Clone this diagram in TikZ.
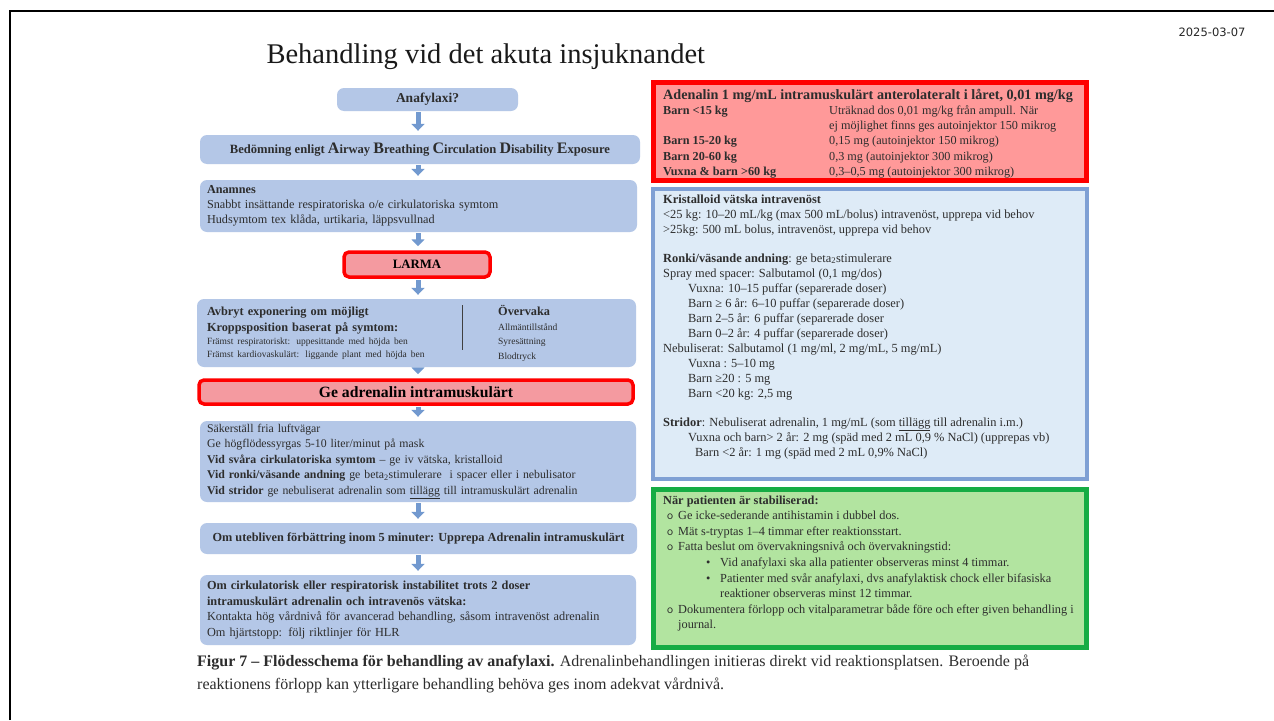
\documentclass[tikz,border=0pt]{standalone}
\usepackage{fontspec}
\setmainfont{Liberation Serif}
\newfontfamily\datefont{DejaVu Sans}
\usetikzlibrary{arrows.meta, positioning}
\definecolor{flowblue}{RGB}{180,199,231}
\definecolor{arrowblue}{RGB}{114,153,207}
\definecolor{alarmred}{RGB}{255,0,0}
\definecolor{alarmpink}{RGB}{244,154,160}
\definecolor{dosepink}{RGB}{255,153,153}
\definecolor{infoblue}{RGB}{222,235,247}
\definecolor{infoedge}{RGB}{127,160,212}
\definecolor{stablegreen}{RGB}{178,228,160}
\definecolor{stableedge}{RGB}{22,172,68}
\definecolor{inktext}{RGB}{45,45,45}
\newcommand{\fs}[2]{\fontsize{#1}{#2}\selectfont}
\newcommand{\abc}[1]{{\fs{16}{15}#1}}
\tikzset{
  flowbox/.style={rectangle, rounded corners=7pt, fill=flowblue, text=inktext,
                  inner xsep=7pt, inner ysep=2pt},
  alarmbox/.style={rectangle, rounded corners=5pt, draw=alarmred, line width=3.5pt,
                   fill=alarmpink, text=black, font=\bfseries},
  infobox/.style={rectangle, draw=#1, line width=4.5pt, inner sep=0pt},
  flowarrow/.style={-{Triangle[width=13pt,length=7pt]}, line width=5pt, draw=arrowblue,
                    shorten <=1pt, shorten >=4pt},
  listtext/.style={anchor=north west, inner sep=0pt, align=left, text=inktext},
}
\begin{document}
\begin{tikzpicture}[x=1pt, y=-1pt]
  \useasboundingbox (0,0) rectangle (1274,720);
  \fill[white] (0,0) rectangle (1274,720);
  % frame
  \draw[line width=2.5pt] (10,720) -- (10,11) -- (1274,11);
  \node[font=\datefont\fs{11.5}{14}, text=black!85] (date) at (1212,32) {2025-03-07};
  \node[anchor=west, font=\fs{28.5}{32}, text=black!90] (title) at (263,57) {Behandling vid det akuta insjuknandet};

  % flow chart, left column
  \node[flowbox, minimum width=181pt, minimum height=23pt, font=\fs{13.5}{15}\bfseries] (ana) at (427.5,99.5) {Anafylaxi?};
  \node[flowbox, minimum width=440pt, minimum height=29pt, font=\fs{12.6}{15}\bfseries] (abcde) at (420,149.5)
    {Bedömning enligt \abc{A}irway \abc{B}reathing \abc{C}irculation \abc{D}isability \abc{E}xposure};
  \node[flowbox, text width=423pt, minimum height=52pt, align=left, font=\fs{12.2}{15}] (anam) at (418.5,206)
    {\textbf{Anamnes}\\ Snabbt insättande respiratoriska o/e cirkulatoriska symtom\\ Hudsymtom tex klåda, urtikaria, läppsvullnad};
  \node[alarmbox, minimum width=146pt, minimum height=25pt, font=\fs{12.8}{15}\bfseries] (larma) at (417,264.5) {LARMA};
  \node[flowbox, inner xsep=10pt, text width=419pt, minimum height=68pt, align=left, font=\fs{12.3}{13}] (avbryt) at (416.5,333)
    {\textbf{Avbryt exponering om möjligt}\\[3pt] \textbf{Kroppsposition baserat på symtom:}\\
     {\fs{9.5}{13}Främst respiratoriskt: uppesittande med höjda ben}\\
     {\fs{9.5}{13}Främst kardiovaskulärt: liggande plant med höjda ben}};
  \node[listtext, font=\fs{12.3}{14.7}] (overv) at (498,305)
    {\textbf{Övervaka}\\ {\fs{9.5}{14.7}Allmäntillstånd}\\ {\fs{9.5}{14.7}Syresättning}\\ {\fs{9.5}{14.7}Blodtryck}};
  \draw[line width=1pt, black!75] (462,305) -- (462,350);
  \node[alarmbox, minimum width=434pt, minimum height=24pt, font=\fs{15.7}{17}\bfseries] (adren) at (416,392) {Ge adrenalin intramuskulärt};
  \node[flowbox, text width=422pt, minimum height=81pt, align=left, font=\fs{11.8}{15.5}] (sakra) at (418,461.5)
    {Säkerställ fria luftvägar\\ Ge högflödessyrgas 5-10 liter/minut på mask\\
     \textbf{Vid svåra cirkulatoriska symtom} – ge iv vätska, kristalloid\\
     \textbf{Vid ronki/väsande andning} ge beta\textsubscript{2}stimulerare\ \ i spacer eller i nebulisator\\
     \textbf{Vid stridor} ge nebuliserat adrenalin som \underline{tillägg} till intramuskulärt adrenalin};
  \node[flowbox, minimum width=437pt, minimum height=31pt, font=\fs{12.3}{14}\bfseries] (uteb) at (418.5,538.5)
    {Om utebliven förbättring inom 5 minuter: Upprepa Adrenalin intramuskulärt};
  \node[flowbox, text width=422pt, minimum height=70pt, align=left, font=\fs{12.3}{15.5}] (cirk) at (418,610)
    {\textbf{Om cirkulatorisk eller respiratorisk instabilitet trots 2 doser}\\
     \textbf{intramuskulärt adrenalin och intravenös vätska:}\\
     Kontakta hög vårdnivå för avancerad behandling, såsom intravenöst adrenalin\\
     Om hjärtstopp: följ riktlinjer för HLR};

  % arrows down the column
  \coordinate (axis) at (418,0);
  \foreach \a/\b in {ana/abcde, abcde/anam, anam/larma, larma/avbryt, avbryt/adren, adren/sakra, sakra/uteb, uteb/cirk}{
    \draw[flowarrow] (\a.south -| axis) -- (\b.north -| axis);
  }

  % right column
  \node[infobox=alarmred, fill=dosepink, minimum width=433pt, minimum height=98pt] (dose) at (870,131.5) {};
  \node[listtext, font=\fs{12.2}{15.2}] (dosetxt) at (663,88.5)
    {\begin{tabular}{@{}p{166pt}@{}l@{}}
     \multicolumn{2}{@{}l@{}}{\fs{14.2}{15.2}\textbf{Adenalin 1 mg/mL intramuskulärt anterolateralt i låret, 0,01 mg/kg}}\\
     \textbf{Barn <15 kg} & Uträknad dos 0,01 mg/kg från ampull. När\\
      & ej möjlighet finns ges autoinjektor 150 mikrog\\
     \textbf{Barn 15-20 kg} & 0,15 mg (autoinjektor 150 mikrog)\\
     \textbf{Barn 20-60 kg} & 0,3 mg (autoinjektor 300 mikrog)\\
     \textbf{Vuxna \& barn >60 kg} & 0,3–0,5 mg (autoinjektor 300 mikrog)
     \end{tabular}};

  \node[infobox=infoedge, fill=infoblue, minimum width=434pt, minimum height=290pt] (fluid) at (870,334) {};
  \node[listtext, font=\fs{12.4}{15.1}] (fluidtxt) at (663,193)
    {\begin{tabular}{@{}l@{}}
     \textbf{Kristalloid vätska intravenöst}\\
     <25 kg: 10–20 mL/kg (max 500 mL/bolus) intravenöst, upprepa vid behov\\
     >25kg: 500 mL bolus, intravenöst, upprepa vid behov\\[13pt]
     \textbf{Ronki/väsande andning}: ge beta\textsubscript{2}stimulerare\\
     Spray med spacer: Salbutamol (0,1 mg/dos)\\
     \hspace*{25pt}Vuxna: 10–15 puffar (separerade doser)\\
     \hspace*{25pt}Barn ≥ 6 år: 6–10 puffar (separerade doser)\\
     \hspace*{25pt}Barn 2–5 år: 6 puffar (separerade doser\\
     \hspace*{25pt}Barn 0–2 år: 4 puffar (separerade doser)\\
     Nebuliserat: Salbutamol (1 mg/ml, 2 mg/mL, 5 mg/mL)\\
     \hspace*{25pt}Vuxna : 5–10 mg\\
     \hspace*{25pt}Barn ≥20 : 5 mg\\
     \hspace*{25pt}Barn <20 kg: 2,5 mg\\[13pt]
     \textbf{Stridor}: Nebuliserat adrenalin, 1 mg/mL (som \underline{tillägg} till adrenalin i.m.)\\
     \hspace*{25pt}Vuxna och barn> 2 år: 2 mg (späd med 2 mL 0,9 \% NaCl) (upprepas vb)\\
     \hspace*{32pt}Barn <2 år: 1 mg (späd med 2 mL 0,9\% NaCl)
     \end{tabular}};

  \node[infobox=stableedge, fill=stablegreen, minimum width=433pt, minimum height=158pt] (stable) at (870,568.5) {};
  \node[listtext, font=\fs{12.3}{15.6}] (stabletxt) at (663,493)
    {\begin{tabular}{@{}l@{}}
     \textbf{När patienten är stabiliserad:}\\
     \hspace*{4pt}\makebox[11pt][l]{\sffamily o}Ge icke-sederande antihistamin i dubbel dos.\\
     \hspace*{4pt}\makebox[11pt][l]{\sffamily o}Mät s-tryptas 1–4 timmar efter reaktionsstart.\\
     \hspace*{4pt}\makebox[11pt][l]{\sffamily o}Fatta beslut om övervakningsnivå och övervakningstid:\\
     \hspace*{43pt}\makebox[14pt][l]{•}Vid anafylaxi ska alla patienter observeras minst 4 timmar.\\
     \hspace*{43pt}\makebox[14pt][l]{•}Patienter med svår anafylaxi, dvs anafylaktisk chock eller bifasiska\\
     \hspace*{57pt}reaktioner observeras minst 12 timmar.\\
     \hspace*{4pt}\makebox[11pt][l]{\sffamily o}Dokumentera förlopp och vitalparametrar både före och efter given behandling i\\
     \hspace*{15pt}journal.
     \end{tabular}};

  % caption
  \node[listtext, font=\fs{16}{23}] (caption) at (197,655)
    {\textbf{Figur 7 – Flödesschema för behandling av anafylaxi.} Adrenalinbehandlingen initieras direkt vid reaktionsplatsen. Beroende på\\
     reaktionens förlopp kan ytterligare behandling behöva ges inom adekvat vårdnivå.};
\end{tikzpicture}
\end{document}
